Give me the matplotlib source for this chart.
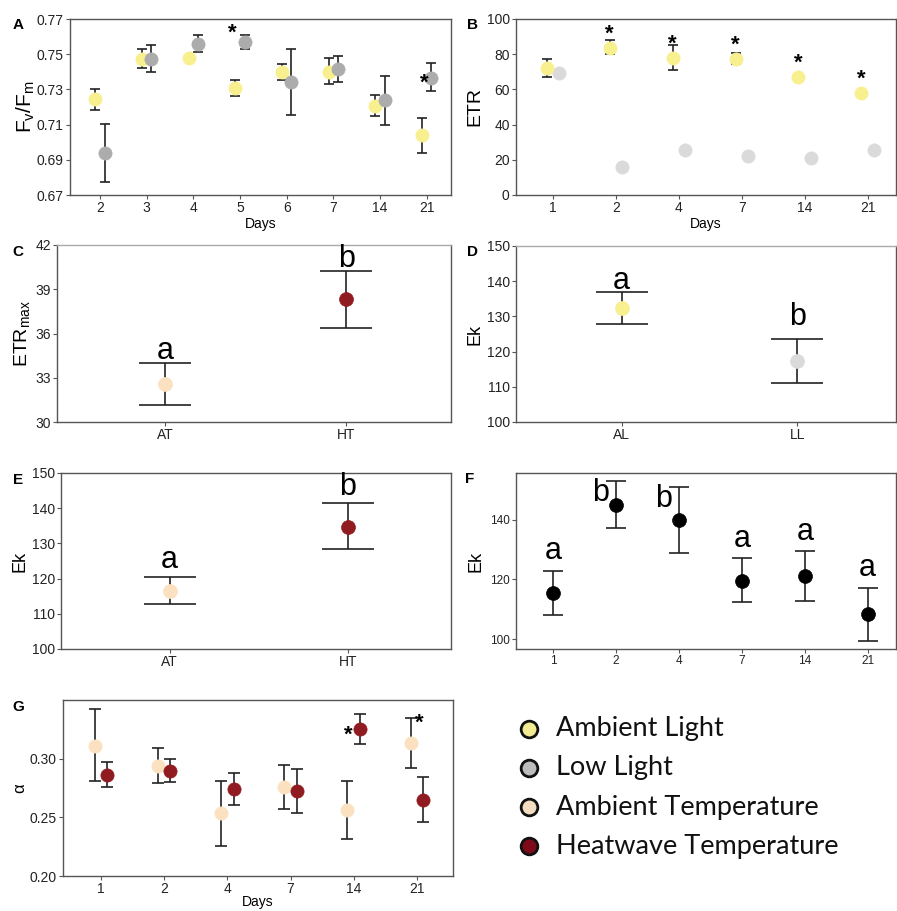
import numpy as np
import matplotlib.pyplot as plt

plt.rcParams['font.family'] = ['Liberation Sans', 'DejaVu Sans']
plt.rcParams['mathtext.fontset'] = 'custom'
plt.rcParams['mathtext.rm'] = 'Liberation Sans'
plt.rcParams['mathtext.it'] = 'Liberation Sans'

W, H = 897, 911

YELLOW = '#f8f08e'
GRAY_A = '#acacac'
GRAY_B = '#dadada'
PEACH = '#fbe1c0'
RED = '#901b20'
AXC = '#555555'

# --- A: Fv/Fm ---
days_a = ['2', '3', '4', '5', '6', '7', '14', '21']
al_fvfm = [0.7244, 0.747, 0.748, 0.731, 0.740, 0.740, 0.7205, 0.704]
al_fvfm_hi = [0.7305, 0.7528, 0.748, 0.7355, 0.7447, 0.748, 0.7268, 0.714]
al_fvfm_lo = [0.7183, 0.742, 0.748, 0.7264, 0.7356, 0.733, 0.7149, 0.694]
ll_fvfm = [0.6936, 0.747, 0.756, 0.757, 0.734, 0.7415, 0.724, 0.7367]
ll_fvfm_hi = [0.7102, 0.755, 0.7608, 0.761, 0.753, 0.749, 0.7376, 0.7448]
ll_fvfm_lo = [0.6776, 0.740, 0.7514, 0.753, 0.7155, 0.734, 0.710, 0.7293]
stars_a = [(3, 0.7622, -0.17), (7, 0.7337, -0.05)]  # (day index, y, x shift)

# --- B: ETR ---
days = ['1', '2', '4', '7', '14', '21']
al_etr = [72.0, 83.7, 78.0, 77.3, 67.2, 57.8]
al_etr_hi = [77.1, 88.0, 85.2, 80.5, 67.2, 57.8]
al_etr_lo = [67.2, 80.0, 71.0, 74.2, 67.2, 57.8]
ll_etr = [69.5, 16.0, 25.8, 22.3, 21.0, 25.8]
stars_b = [False, True, True, True, True, True]

# --- C: ETRmax by temperature ---
temp_groups = ['AT', 'HT']
etrmax = [32.57, 38.33]
etrmax_hi = [34.0, 40.24]
etrmax_lo = [31.17, 36.36]
etrmax_letters = ['a', 'b']

# --- D: Ek by light ---
light_groups = ['AL', 'LL']
ek_light = [132.5, 117.4]
ek_light_hi = [137.0, 123.5]
ek_light_lo = [127.8, 111.2]
ek_light_letters = ['a', 'b']

# --- E: Ek by temperature ---
ek_temp = [116.6, 134.8]
ek_temp_hi = [120.5, 141.5]
ek_temp_lo = [112.7, 128.5]
ek_temp_letters = ['a', 'b']

# --- F: Ek by day ---
ek_day = [115.6, 145.0, 140.0, 119.5, 121.2, 108.4]
ek_day_hi = [123.0, 153.1, 151.1, 127.1, 129.4, 117.3]
ek_day_lo = [108.1, 137.2, 129.0, 112.4, 112.8, 99.5]
ek_day_letters = ['a', 'b', 'b', 'a', 'a', 'a']

# --- G: alpha ---
at_alpha = [0.311, 0.2937, 0.2534, 0.2761, 0.2562, 0.313]
at_alpha_hi = [0.3422, 0.3088, 0.281, 0.2943, 0.2807, 0.3346]
at_alpha_lo = [0.281, 0.279, 0.2258, 0.2573, 0.2318, 0.292]
ht_alpha = [0.2863, 0.2897, 0.2741, 0.2724, 0.325, 0.2647]
ht_alpha_hi = [0.2974, 0.2994, 0.288, 0.2914, 0.338, 0.2843]
ht_alpha_lo = [0.2755, 0.2803, 0.2607, 0.2539, 0.3122, 0.2463]
stars_g = [(4, 0.320, -0.09), (5, 0.330, 0.03)]

legend_labels = ['Ambient Light', 'Low Light', 'Ambient Temperature', 'Heatwave Temperature']
legend_colors = ['#f3ec93', '#bdbdbd', '#f3dcc0', '#7c0a18']

fig = plt.figure(figsize=(W / 100, H / 100), dpi=100)


def make_ax(l, t, r, b):
    ax = fig.add_axes([l / W, 1 - b / H, (r - l) / W, (b - t) / H])
    for s in ax.spines.values():
        s.set_color(AXC)
        s.set_linewidth(1.0)
    ax.tick_params(colors='#222222', length=3, width=0.8, labelsize=10, pad=1.5)
    ax.tick_params(axis='both', color=AXC)
    return ax


def yerr(m, hi, lo):
    m, hi, lo = map(np.asarray, (m, hi, lo))
    return np.vstack([m - lo, hi - m])


def panel_label(x, y, s):
    fig.text(x / W, 1 - y / H, s, fontsize=11, fontweight='bold', ha='center', va='center')


def dots(ax, x, m, hi, lo, color, cap, ms=9.5):
    ax.errorbar(x, m, yerr=yerr(m, hi, lo), fmt='none', ecolor='#222222',
                elinewidth=1.2, capthick=1.2, capsize=cap, zorder=2)
    ax.plot(x, m, 'o', ms=ms, color=color, mec=color, mew=0.5, zorder=3)


# A
ax = make_ax(70, 19, 451, 195)
xa = np.arange(len(days_a))
dots(ax, xa - 0.1, al_fvfm, al_fvfm_hi, al_fvfm_lo, YELLOW, 3.5)
dots(ax, xa + 0.1, ll_fvfm, ll_fvfm_hi, ll_fvfm_lo, GRAY_A, 3.5)
for i, y, dx in stars_a:
    ax.text(i + dx, y, '*', fontsize=16, fontweight='bold', ha='center', va='center')
ax.set_xlim(-0.64, 7.52)
ax.set_ylim(0.67, 0.77)
ax.set_yticks(np.arange(0.67, 0.771, 0.02))
ax.set_yticklabels([f'{v:.2f}' for v in np.arange(0.67, 0.771, 0.02)])
ax.set_xticks(xa)
ax.set_xticklabels(days_a)
ax.set_xlabel('Days', fontsize=10, labelpad=1)
ax.set_ylabel(r'$\mathregular{F_v/F_m}$', fontsize=15, labelpad=0)
panel_label(18, 25, 'A')

# B
ax = make_ax(516, 19, 896, 195)
xb = np.arange(len(days))
dots(ax, xb - 0.1, al_etr, al_etr_hi, al_etr_lo, YELLOW, 3.5)
ax.plot(xb + 0.1, ll_etr, 'o', ms=9.5, color=GRAY_B, mec=GRAY_B, mew=0.5)
for i, s in enumerate(stars_b):
    if s:
        ax.annotate('*', (xb[i] - 0.1, al_etr[i]), xytext=(0, 10), textcoords='offset points',
                    fontsize=16, fontweight='bold', ha='center', va='center')
ax.set_xlim(-0.59, 5.45)
ax.set_ylim(0, 100)
ax.set_yticks(range(0, 101, 20))
ax.set_xticks(xb)
ax.set_xticklabels(days)
ax.set_xlabel('Days', fontsize=10, labelpad=1)
ax.set_ylabel('ETR', fontsize=14, labelpad=2)
panel_label(472, 25, 'B')

letter_kw = dict(fontsize=22, ha='center', va='bottom', family=['Liberation Sans Narrow', 'Liberation Sans'])
xc = np.arange(2)

# C
ax = make_ax(57, 245, 451, 422)
for i, c in enumerate([PEACH, RED]):
    dots(ax, [xc[i]], [etrmax[i]], [etrmax_hi[i]], [etrmax_lo[i]], c, 19, ms=10)
    ax.annotate(etrmax_letters[i], (xc[i], etrmax_hi[i]), xytext=(0, -2), textcoords='offset points', **letter_kw)
ax.set_xlim(-0.6, 1.58)
ax.set_ylim(30, 42)
ax.set_yticks(range(30, 43, 3))
ax.set_xticks(xc)
ax.set_xticklabels(temp_groups)
ax.set_ylabel(r'ETR$_{\mathregular{max}}$', fontsize=14, labelpad=2)
ax.spines['top'].set_color('#aaaaaa')
panel_label(18, 252, 'C')

# D
ax = make_ax(516, 246, 896, 422)
for i, c in enumerate([YELLOW, GRAY_B]):
    dots(ax, [xc[i]], [ek_light[i]], [ek_light_hi[i]], [ek_light_lo[i]], c, 19, ms=10)
    ax.annotate(ek_light_letters[i], (xc[i], ek_light_hi[i]), xytext=(0, -3 + 8 * i), textcoords='offset points',
                **letter_kw)
ax.set_xlim(-0.6, 1.56)
ax.set_ylim(100, 150)
ax.set_yticks(range(100, 151, 10))
ax.set_xticks(xc)
ax.set_xticklabels(light_groups)
ax.set_ylabel('Ek', fontsize=13, labelpad=2)
ax.spines['top'].set_color('#aaaaaa')
panel_label(472, 252, 'D')

# E
ax = make_ax(61, 473, 451, 649)
for i, c in enumerate([PEACH, RED]):
    dots(ax, [xc[i]], [ek_temp[i]], [ek_temp_hi[i]], [ek_temp_lo[i]], c, 19, ms=10)
    ax.annotate(ek_temp_letters[i], (xc[i], ek_temp_hi[i]), xytext=(0, 1), textcoords='offset points',
                **letter_kw)
ax.set_xlim(-0.61, 1.58)
ax.set_ylim(100, 150)
ax.set_yticks(range(100, 151, 10))
ax.set_xticks(xc)
ax.set_xticklabels(temp_groups)
ax.set_ylabel('Ek', fontsize=13, labelpad=2)
panel_label(18, 480, 'E')

# F
ax = make_ax(516, 473, 896, 649)
xf = np.arange(len(days))
dots(ax, xf, ek_day, ek_day_hi, ek_day_lo, 'black', 7, ms=10)
for i, L in enumerate(ek_day_letters):
    if L == 'b':
        ax.annotate(L, (xf[i], ek_day_hi[i]), xytext=(-11, 2), textcoords='offset points',
                    fontsize=22, ha='center', va='top', family=['Liberation Sans Narrow', 'Liberation Sans'])
    else:
        ax.annotate(L, (xf[i], ek_day_hi[i]), xytext=(0, 3), textcoords='offset points', **letter_kw)
ax.set_xlim(-0.59, 5.45)
ax.set_ylim(96.7, 155.7)
ax.set_yticks([100, 120, 140])
ax.set_xticks(xf)
ax.set_xticklabels(days)
ax.tick_params(labelsize=8.5)
ax.set_ylabel('Ek', fontsize=13, labelpad=4)
panel_label(470, 479, 'F')

# G
ax = make_ax(63, 700, 453, 876)
xg = np.arange(len(days))
dots(ax, xg - 0.1, at_alpha, at_alpha_hi, at_alpha_lo, PEACH, 4)
dots(ax, xg + 0.1, ht_alpha, ht_alpha_hi, ht_alpha_lo, RED, 4)
for i, y, dx in stars_g:
    ax.text(i + dx, y, '*', fontsize=16, fontweight='bold', ha='center', va='center')
ax.set_xlim(-0.6, 5.57)
ax.set_ylim(0.2, 0.35)
ax.set_yticks([0.20, 0.25, 0.30])
ax.set_yticklabels(['0.20', '0.25', '0.30'])
ax.set_xticks(xg)
ax.set_xticklabels(days)
ax.set_xlabel('Days', fontsize=10, labelpad=-1)
ax.set_ylabel('\u03b1', fontsize=12, labelpad=2)
panel_label(18, 707, 'G')

# legend
lax = fig.add_axes([515 / W, 1 - 870 / H, 380 / W, 165 / H])
lax.set_xlim(0, 1)
lax.set_ylim(3.6, -0.6)
lax.axis('off')
for i, (lab, c) in enumerate(zip(legend_labels, legend_colors)):
    lax.plot(0.037, i, 'o', ms=12, color=c, mec='#111111', mew=2)
    lax.text(0.109, i, lab, fontsize=19.5, va='center', ha='left', family=['Lato', 'DejaVu Sans'],
             color='#111111')

fig.savefig('out.png', dpi=100)
